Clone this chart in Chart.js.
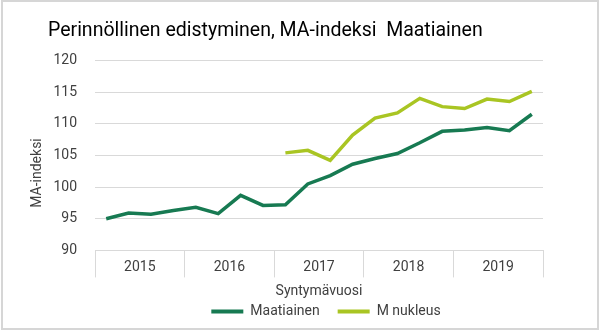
<!DOCTYPE html>
<html>
<head>
<meta charset="utf-8">
<script src="https://cdn.jsdelivr.net/npm/chart.js@4/dist/chart.umd.min.js"></script>
<style>
  html, body { margin: 0; padding: 0; background: #fff; }
  #frame { position: absolute; left: 1px; top: 0px; width: 598px; height: 330px; box-sizing: border-box; border: 2px solid #d6d6d6; }
  #wrap { position: absolute; left: 0; top: 0; width: 600px; height: 331px; }
</style>
</head>
<body>
<div id="frame"></div>
<div id="wrap"><canvas id="c" width="600" height="331"></canvas></div>
<script>
// Quarterly categories (birth year, quarter)
const quarters = [
  '2015 Q1','2015 Q2','2015 Q3','2015 Q4',
  '2016 Q1','2016 Q2','2016 Q3','2016 Q4',
  '2017 Q1','2017 Q2','2017 Q3','2017 Q4',
  '2018 Q1','2018 Q2','2018 Q3','2018 Q4',
  '2019 Q1','2019 Q2','2019 Q3','2019 Q4'
];
const years = ['2015','2016','2017','2018','2019'];
const maatiainen = [95.0, 95.9, 95.7, 96.3, 96.8, 95.8, 98.7, 97.1, 97.2, 100.5, 101.8, 103.6,
                    104.5, 105.3, 107.0, 108.8, 109.0, 109.4, 108.9, 111.5];
const mNukleus = [null, null, null, null, null, null, null, null, 105.4, 105.8, 104.2, 108.2,
                  110.9, 111.7, 114.0, 112.7, 112.4, 113.9, 113.5, 115.1];
const yTicks = [90, 95, 100, 105, 110, 115, 120];

const GREEN = '#177a52';
const LIME = '#a9c523';
const GRID = '#d9d9d9';
const TXT = '#404040';
const FONT = 'Roboto, "Open Sans", sans-serif';

const yTitlePlugin = {
  id: 'yTitle',
  afterLayout(chart) {
    if (chart.legend) { chart.legend.left += 7; chart.legend.right += 7; }
  },
  afterDraw(chart) {
    const ctx = chart.ctx;
    ctx.save();
    ctx.translate(37, 173);
    ctx.rotate(-Math.PI / 2);
    ctx.font = '14px ' + FONT;
    ctx.fillStyle = TXT;
    ctx.textAlign = 'center';
    ctx.textBaseline = 'middle';
    ctx.fillText('MA-indeksi', 0, 0);
    ctx.restore();
  }
};

new Chart(document.getElementById('c'), {
  type: 'line',
  data: {
    labels: quarters,
    datasets: [
      { label: 'Maatiainen', data: maatiainen, borderColor: GREEN, backgroundColor: GREEN,
        borderWidth: 3.5, pointRadius: 0, pointHoverRadius: 0, tension: 0, xAxisID: 'x' },
      { label: 'M nukleus', data: mNukleus, borderColor: LIME, backgroundColor: LIME,
        borderWidth: 3.5, pointRadius: 0, pointHoverRadius: 0, tension: 0, spanGaps: false, xAxisID: 'x' }
    ]
  },
  options: {
    responsive: false,
    animation: false,
    layout: { padding: { left: 48, right: 57, top: 0, bottom: 2.6 } },
    plugins: {
      title: {
        display: true,
        text: 'Perinnöllinen edistyminen, MA-indeksi  Maatiainen',
        align: 'start',
        color: '#000',
        font: { family: FONT, size: 19.5, weight: 'normal' },
        padding: { top: 19, bottom: 18 }
      },
      legend: {
        display: true,
        position: 'bottom',
        fullSize: false,
        labels: {
          color: TXT,
          font: { family: FONT, size: 14 },
          boxWidth: 32,
          boxHeight: 4,
          padding: 18,
          generateLabels: (chart) => Chart.defaults.plugins.legend.labels.generateLabels(chart)
            .map(l => Object.assign(l, { lineWidth: 0 }))
        }
      },
      tooltip: { enabled: false }
    },
    scales: {
      x: {
        type: 'category',
        display: false,
        offset: true
      },
      x2: {
        type: 'category',
        position: 'bottom',
        labels: years,
        offset: true,
        grid: { offset: true, drawOnChartArea: false, drawTicks: true, tickLength: 27, color: GRID, lineWidth: 1 },
        border: { display: true, color: GRID },
        ticks: { color: TXT, font: { family: FONT, size: 14 }, padding: -18, maxRotation: 0 },
        title: { display: true, text: 'Syntymävuosi', color: TXT, font: { family: FONT, size: 14 }, padding: { top: 24.8, bottom: -13.4 } }
      },
      y: {
        min: 90,
        max: 120,
        afterBuildTicks: (scale) => { scale.ticks = yTicks.map(v => ({ value: v })); },
        afterFit: (scale) => { scale.width = 47; },
        grid: { color: GRID, lineWidth: 1, drawTicks: false },
        border: { display: false },
        ticks: { color: TXT, font: { family: FONT, size: 14 }, padding: 18 }
      }
    }
  },
  plugins: [yTitlePlugin]
});
</script>
</body>
</html>
